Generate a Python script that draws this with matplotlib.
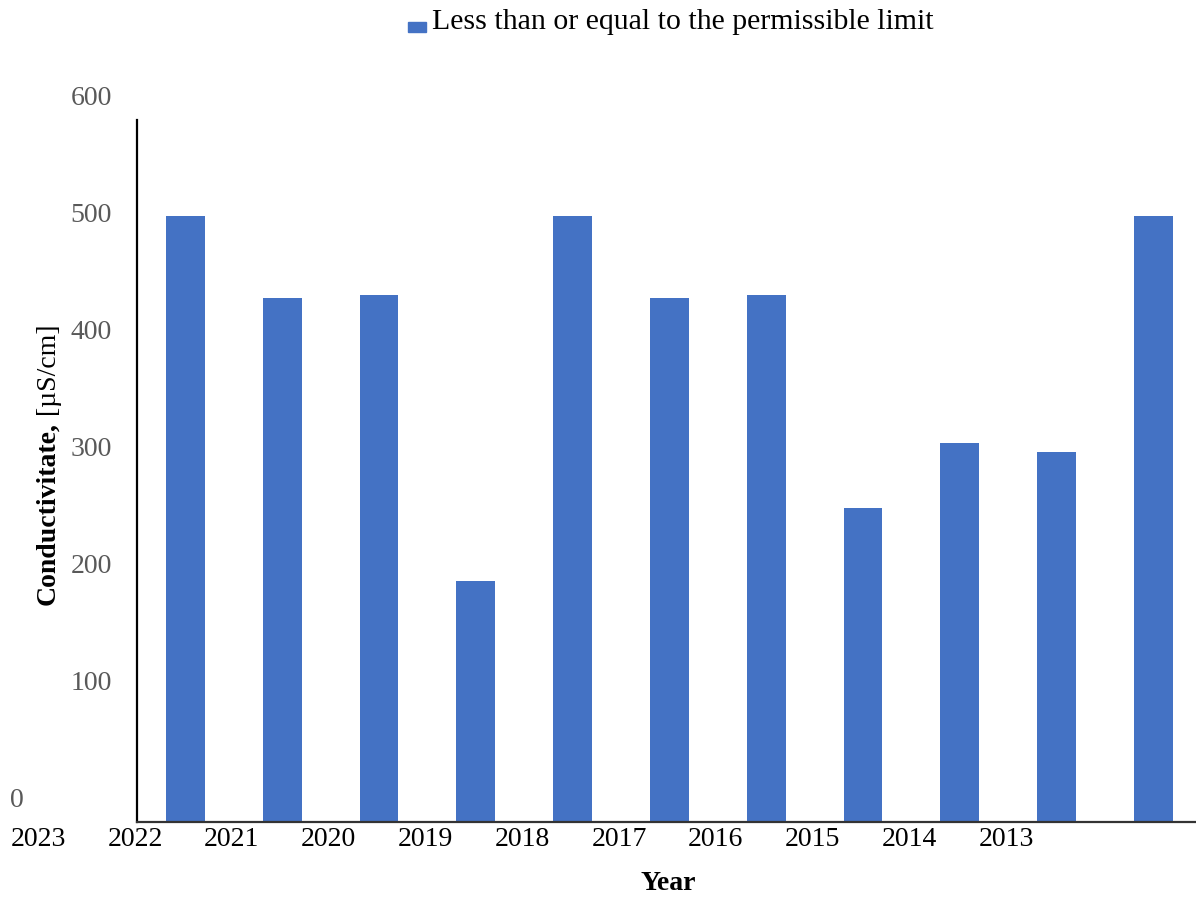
import matplotlib
matplotlib.use("Agg")
import matplotlib.pyplot as plt
from matplotlib.transforms import blended_transform_factory

years = ["2023", "2022", "2021", "2020", "2019", "2018", "2017", "2016", "2015", "2014", "2013"]
values = [500, 430, 432, 188, 500, 430, 432, 250, 306, 298, 500]
yticks = [0, 100, 200, 300, 400, 500, 600]
legend_label = "Less than or equal to the permissible limit"

BLUE = "#4472C4"
FONT = "Liberation Serif"
FS = 20

fig = plt.figure(figsize=(11.96, 9.01), dpi=100)
ax = fig.add_axes([137 / 1196, 1 - 822 / 901, 1 - 137 / 1196, (822 - 120) / 901])

YMIN, YMAX = -18, 582
x = list(range(len(values)))
# bars run from the (offset) bottom of the axes up to their value
ax.bar(x, [v - YMIN for v in values], bottom=YMIN, width=0.4, color=BLUE, zorder=2)

for s in ["top", "right"]:
    ax.spines[s].set_visible(False)
ax.spines["left"].set_color("black")
ax.spines["left"].set_linewidth(1.6)
ax.spines["bottom"].set_color("#333333")
ax.spines["bottom"].set_linewidth(1.6)

ax.set_xticks([])
ax.set_yticks([])
ax.set_xlim(-0.5, 10.44)
ax.set_ylim(YMIN, YMAX)

# y tick labels (placed as in the reference)
ytrans = blended_transform_factory(fig.transFigure, ax.transData)
for v in yticks:
    xc = 17 if v == 0 else 91
    ax.text(xc / 1196, v, str(v), transform=ytrans, ha="center", va="center",
            fontfamily=FONT, fontsize=FS, color="#595959", clip_on=False)

# shifted x labels
trans = blended_transform_factory(ax.transData, fig.transFigure)
for i, yr in enumerate(years):
    ax.text(i - 1.52, 1 - 840 / 901, yr, transform=trans, ha="center", va="center",
            fontfamily=FONT, fontsize=FS, color="black", clip_on=False)

fig.text(668 / 1196, 1 - 883 / 901, "Year", ha="center", va="center",
         fontfamily=FONT, fontsize=FS, fontweight="bold")

# y label: bold part + regular part
fig.text(48 / 1196, 1 - 514 / 901, "Conductivitate,", rotation=90, ha="center", va="center",
         fontfamily=FONT, fontsize=FS, fontweight="bold")
fig.text(48 / 1196, 1 - 368 / 901, "[\u00b5S/cm]", rotation=90, ha="center", va="center",
         fontfamily=FONT, fontsize=FS)

# legend
fig.patches.append(plt.Rectangle((408 / 1196, 1 - 32 / 901), 18 / 1196, 10 / 901,
                                 transform=fig.transFigure, color=BLUE))
fig.text(432 / 1196, 1 - 22 / 901, legend_label, ha="left", va="center",
         fontfamily=FONT, fontsize=21.5, color="black")

fig.savefig("out.png", dpi=100)
